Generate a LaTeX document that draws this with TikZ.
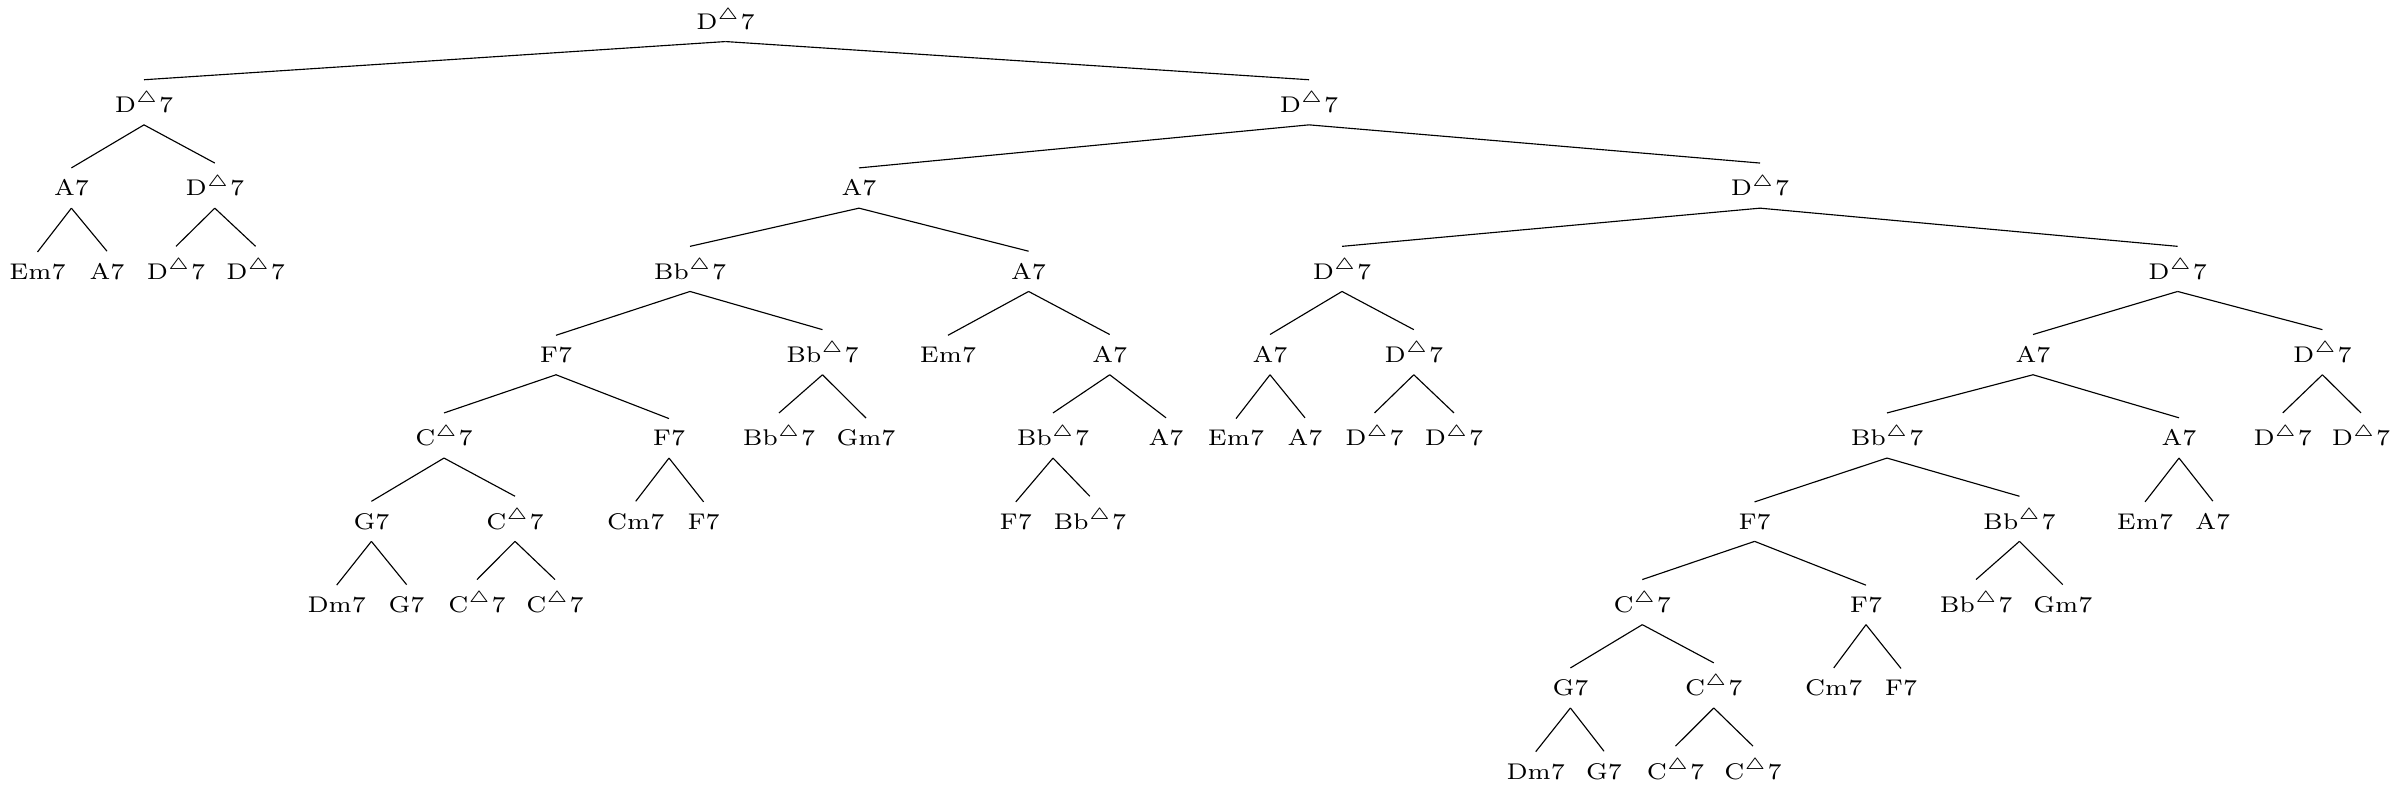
\documentclass[tikz,border=0pt]{standalone}
\usepackage{graphicx}
\newcommand{\mj}{$^\triangle$}
\newcommand{\ch}[1]{\scalebox{1.55}[1.4286]{\fontsize{7}{8.4}\selectfont #1}}
\begin{document}
\begin{tikzpicture}[x=0.4405pt,y=-0.4405pt,
  tn/.style={anchor=base,inner sep=5pt},
  br/.style={line width=0.5pt}]
\useasboundingbox (0,0) rectangle (2403,789);
% level 0
\node[tn] (r) at (725.5,29.3) {\ch{D\mj7}};
% level 1
\node[tn] (a) at (144,112.6) {\ch{D\mj7}};
\node[tn] (b) at (1309,112.6) {\ch{D\mj7}};
% level 2
\node[tn] (aa) at (71.4,195.9) {\ch{A7}};
\node[tn] (ab) at (214.8,195.9) {\ch{D\mj7}};
\node[tn] (ba) at (859,195.9) {\ch{A7}};
\node[tn] (bb) at (1760,195.9) {\ch{D\mj7}};
% level 3
\node[tn] (aaa) at (37.5,279.2) {\ch{Em7}};
\node[tn] (aab) at (107,279.2) {\ch{A7}};
\node[tn] (aba) at (176,279.2) {\ch{D\mj7}};
\node[tn] (abb) at (255.6,279.2) {\ch{D\mj7}};
\node[tn] (baa) at (690,279.2) {\ch{Bb\mj7}};
\node[tn] (bab) at (1028.6,279.2) {\ch{A7}};
\node[tn] (bba) at (1342,279.2) {\ch{D\mj7}};
\node[tn] (bbb) at (2177.6,279.2) {\ch{D\mj7}};
% level 4
\node[tn] (baaa) at (556,362.5) {\ch{F7}};
\node[tn] (baab) at (822.5,362.5) {\ch{Bb\mj7}};
\node[tn] (baba) at (948,362.5) {\ch{Em7}};
\node[tn] (babb) at (1109.7,362.5) {\ch{A7}};
\node[tn] (bbaa) at (1270,362.5) {\ch{A7}};
\node[tn] (bbab) at (1413.8,362.5) {\ch{D\mj7}};
\node[tn] (bbba) at (2033,362.5) {\ch{A7}};
\node[tn] (bbbb) at (2322.4,362.5) {\ch{D\mj7}};
% level 5
\node[tn] (baaaa) at (444,445.8) {\ch{C\mj7}};
\node[tn] (baaab) at (669,445.8) {\ch{F7}};
\node[tn] (baaba) at (779,445.8) {\ch{Bb\mj7}};
\node[tn] (baabb) at (866,445.8) {\ch{Gm7}};
\node[tn] (babba) at (1053,445.8) {\ch{Bb\mj7}};
\node[tn] (babbb) at (1166,445.8) {\ch{A7}};
\node[tn] (bbaaa) at (1236,445.8) {\ch{Em7}};
\node[tn] (bbaab) at (1305,445.8) {\ch{A7}};
\node[tn] (bbaba) at (1374.5,445.8) {\ch{D\mj7}};
\node[tn] (bbabb) at (1454,445.8) {\ch{D\mj7}};
\node[tn] (bbbaa) at (1887,445.8) {\ch{Bb\mj7}};
\node[tn] (bbbab) at (2179,445.8) {\ch{A7}};
\node[tn] (bbbba) at (2282.7,445.8) {\ch{D\mj7}};
\node[tn] (bbbbb) at (2361,445.8) {\ch{D\mj7}};
% level 6
\node[tn] (baaaaa) at (371.4,529.1) {\ch{G7}};
\node[tn] (baaaab) at (515,529.1) {\ch{C\mj7}};
\node[tn] (baaaba) at (635.7,529.1) {\ch{Cm7}};
\node[tn] (baaabb) at (703.6,529.1) {\ch{F7}};
\node[tn] (babbaa) at (1015.8,529.1) {\ch{F7}};
\node[tn] (babbab) at (1089.8,529.1) {\ch{Bb\mj7}};
\node[tn] (bbbaaa) at (1754.6,529.1) {\ch{F7}};
\node[tn] (bbbaab) at (2019.4,529.1) {\ch{Bb\mj7}};
\node[tn] (bbbaba) at (2145,529.1) {\ch{Em7}};
\node[tn] (bbbabb) at (2212.8,529.1) {\ch{A7}};
% level 7
\node[tn] (baaaaaa) at (336.7,612.4) {\ch{Dm7}};
\node[tn] (baaaaab) at (406.6,612.4) {\ch{G7}};
\node[tn] (baaaaba) at (477,612.4) {\ch{C\mj7}};
\node[tn] (baaaabb) at (555,612.4) {\ch{C\mj7}};
\node[tn] (bbbaaaa) at (1642.3,612.4) {\ch{C\mj7}};
\node[tn] (bbbaaab) at (1866,612.4) {\ch{F7}};
\node[tn] (bbbaaba) at (1976,612.4) {\ch{Bb\mj7}};
\node[tn] (bbbaabb) at (2062.8,612.4) {\ch{Gm7}};
% level 8
\node[tn] (bbbaaaaa) at (1570.4,695.7) {\ch{G7}};
\node[tn] (bbbaaaab) at (1713.8,695.7) {\ch{C\mj7}};
\node[tn] (bbbaaaba) at (1833.7,695.7) {\ch{Cm7}};
\node[tn] (bbbaaabb) at (1901,695.7) {\ch{F7}};
% level 9
\node[tn] (bbbaaaaaa) at (1535.7,779) {\ch{Dm7}};
\node[tn] (bbbaaaaab) at (1604,779) {\ch{G7}};
\node[tn] (bbbaaaaba) at (1675.5,779) {\ch{C\mj7}};
\node[tn] (bbbaaaabb) at (1753,779) {\ch{C\mj7}};
% edges
\foreach \p/\c in {r/a,r/b,
  a/aa,a/ab,b/ba,b/bb,
  aa/aaa,aa/aab,ab/aba,ab/abb,ba/baa,ba/bab,bb/bba,bb/bbb,
  baa/baaa,baa/baab,bab/baba,bab/babb,bba/bbaa,bba/bbab,bbb/bbba,bbb/bbbb,
  baaa/baaaa,baaa/baaab,baab/baaba,baab/baabb,babb/babba,babb/babbb,
  bbaa/bbaaa,bbaa/bbaab,bbab/bbaba,bbab/bbabb,bbba/bbbaa,bbba/bbbab,bbbb/bbbba,bbbb/bbbbb,
  baaaa/baaaaa,baaaa/baaaab,baaab/baaaba,baaab/baaabb,babba/babbaa,babba/babbab,
  bbbaa/bbbaaa,bbbaa/bbbaab,bbbab/bbbaba,bbbab/bbbabb,
  baaaaa/baaaaaa,baaaaa/baaaaab,baaaab/baaaaba,baaaab/baaaabb,
  bbbaaa/bbbaaaa,bbbaaa/bbbaaab,bbbaab/bbbaaba,bbbaab/bbbaabb,
  bbbaaaa/bbbaaaaa,bbbaaaa/bbbaaaab,bbbaaab/bbbaaaba,bbbaaab/bbbaaabb,
  bbbaaaaa/bbbaaaaaa,bbbaaaaa/bbbaaaaab,bbbaaaab/bbbaaaaba,bbbaaaab/bbbaaaabb}
  \draw[br] (\p.south) -- (\c.north);
\end{tikzpicture}
\end{document}
